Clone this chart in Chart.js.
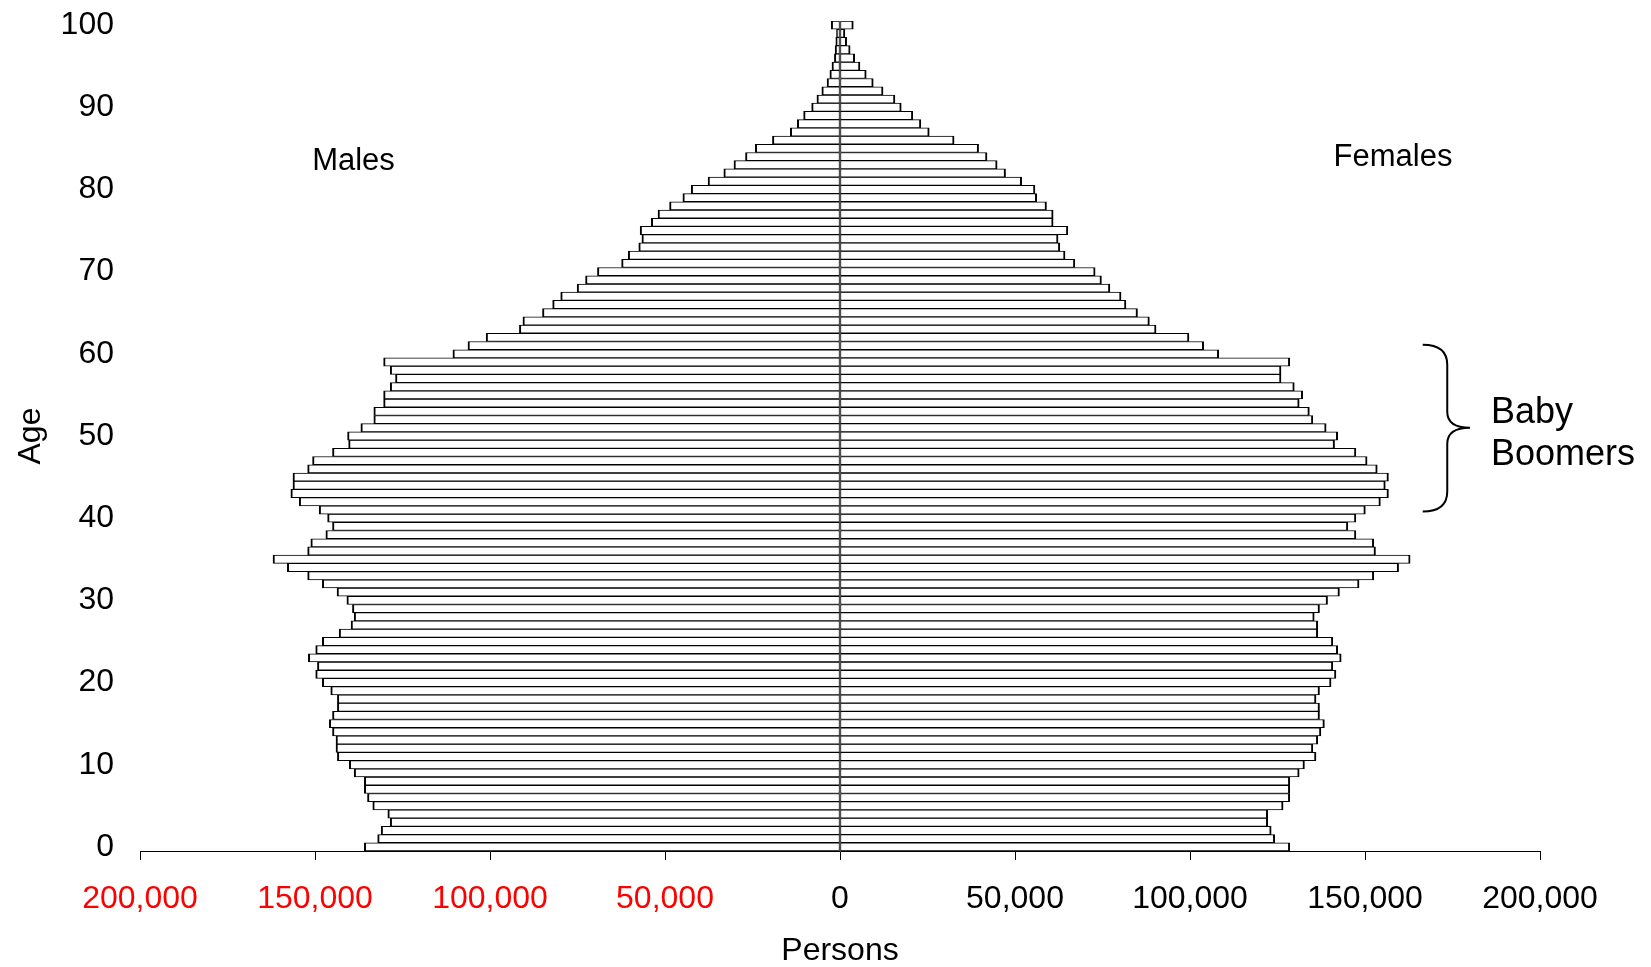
<!DOCTYPE html>
<html>
<head>
<meta charset="utf-8">
<title>Population pyramid</title>
<script src="https://cdn.jsdelivr.net/npm/chart.js@4.4.1/dist/chart.umd.min.js"></script>
<style>
  html, body { margin: 0; padding: 0; background: #fff; }
</style>
</head>
<body>
<canvas id="pyramid" width="1651" height="967"></canvas>
<script>
"use strict";

// single years of age, bottom to top
const ages = [
    '0', '1', '2', '3', '4', '5', '6', '7', '8', '9',
    '10', '11', '12', '13', '14', '15', '16', '17', '18', '19',
    '20', '21', '22', '23', '24', '25', '26', '27', '28', '29',
    '30', '31', '32', '33', '34', '35', '36', '37', '38', '39',
    '40', '41', '42', '43', '44', '45', '46', '47', '48', '49',
    '50', '51', '52', '53', '54', '55', '56', '57', '58', '59',
    '60', '61', '62', '63', '64', '65', '66', '67', '68', '69',
    '70', '71', '72', '73', '74', '75', '76', '77', '78', '79',
    '80', '81', '82', '83', '84', '85', '86', '87', '88', '89',
    '90', '91', '92', '93', '94', '95', '96', '97', '98', '99',
    '100'
];

// persons by age
const males = [
    135900, 132100, 131100, 128500, 129200, 133500, 135000, 135900, 135900, 138800,
    140200, 143600, 144000, 144000, 145000, 145900, 145000, 143600, 143600, 145500,
    147900, 149800, 149300, 151900, 149800, 147900, 143100, 139700, 138800, 139300,
    140900, 143700, 147900, 152100, 157900, 162000, 152100, 151200, 146900, 145000,
    146400, 148800, 154500, 156900, 156300, 156300, 152100, 150700, 145000, 140400,
    140700, 136900, 133200, 133200, 130400, 130400, 128500, 127000, 128500, 130400,
    110600, 106300, 101100, 91600, 90600, 85000, 82100, 79800, 75100, 72700,
    69300, 62400, 60500, 57500, 56600, 57100, 53900, 52000, 48700, 44900,
    42500, 37700, 33200, 30300, 27000, 24200, 19300, 14200, 12200, 10400,
    8100, 6600, 5200, 3700, 2900, 2300, 1600, 1400, 1200, 1000,
    2500
];

const females = [
    128500, 124200, 123200, 122200, 122200, 126600, 128500, 128500, 128500, 131200,
    132700, 136000, 135100, 136500, 137400, 138400, 137000, 137000, 136000, 137000,
    140300, 141700, 140800, 143200, 142200, 140800, 136500, 136500, 135500, 137000,
    139300, 142700, 148300, 152500, 159600, 162900, 153000, 152500, 147400, 145100,
    147400, 150100, 154400, 156700, 155800, 156700, 153500, 150600, 147400, 141300,
    142200, 138900, 135100, 134100, 131200, 132200, 129800, 126000, 126000, 128500,
    108200, 103900, 99700, 90300, 88400, 85000, 81700, 80300, 77100, 74700,
    72900, 67100, 64300, 62800, 62300, 65100, 60900, 60900, 59000, 56200,
    55700, 51900, 47300, 44900, 42000, 39600, 32600, 25500, 23100, 20800,
    17500, 15700, 12300, 9500, 7500, 5700, 4200, 2900, 1900, 1400,
    3800
];

const FONT = "'Liberation Sans', Arial, Helvetica, sans-serif";

// side labels, brace and "Baby Boomers" note
const notesPlugin = {
    id: 'notes',
    afterDraw(chart) {
        const { ctx, scales: { x, y } } = chart;
        ctx.save();
        ctx.fillStyle = '#000';
        ctx.textBaseline = 'alphabetic';

        ctx.font = `31px ${FONT}`;
        ctx.textAlign = 'center';
        ctx.fillText('Males', x.getPixelForValue(-139000), 170);
        ctx.fillText('Females', x.getPixelForValue(158000), 166);

        // curly brace beside the boomer years
        const xEnd = x.getPixelForValue(166500);
        const xMid = x.getPixelForValue(173500);
        const xTip = x.getPixelForValue(180000);
        const yTop = y.getPixelForValue(61.1);
        const yTip = y.getPixelForValue(51);
        const yBot = y.getPixelForValue(40.8);
        ctx.beginPath();
        ctx.moveTo(xEnd, yTop);
        ctx.quadraticCurveTo(xMid, yTop, xMid, yTop + 20);
        ctx.lineTo(xMid, yTip - 16);
        ctx.quadraticCurveTo(xMid, yTip, xTip, yTip);
        ctx.quadraticCurveTo(xMid, yTip, xMid, yTip + 16);
        ctx.lineTo(xMid, yBot - 20);
        ctx.quadraticCurveTo(xMid, yBot, xEnd, yBot);
        ctx.lineWidth = 2;
        ctx.strokeStyle = '#000';
        ctx.stroke();

        ctx.font = `36px ${FONT}`;
        ctx.textAlign = 'left';
        const xText = x.getPixelForValue(186000);
        ctx.fillText('Baby', xText, 423);
        ctx.fillText('Boomers', xText, 465);
        ctx.restore();
    }
};

const ctx = document.getElementById('pyramid').getContext('2d');

new Chart(ctx, {
    type: 'bar',
    data: {
        labels: ages,
        datasets: [{
            label: 'Males',
            data: males.map(v => -v),
            backgroundColor: '#ffffff',
            borderColor: '#000000',
            borderWidth: { top: 1, bottom: 1, left: 2, right: 1 },
            borderSkipped: false,
            barPercentage: 1,
            categoryPercentage: 1
        }, {
            label: 'Females',
            data: females,
            backgroundColor: '#ffffff',
            borderColor: '#000000',
            borderWidth: { top: 1, bottom: 1, left: 1, right: 2 },
            borderSkipped: false,
            barPercentage: 1,
            categoryPercentage: 1
        }]
    },
    options: {
        indexAxis: 'y',
        responsive: false,
        animation: false,
        devicePixelRatio: 1,
        layout: {
            padding: { top: 21, right: 111, bottom: 0, left: 0 }
        },
        plugins: {
            legend: { display: false },
            tooltip: { enabled: false }
        },
        scales: {
            x: {
                stacked: true,
                min: -200000,
                max: 200000,
                afterFit: scale => { scale.height = 116; },
                ticks: {
                    stepSize: 50000,
                    padding: 20,
                    font: { family: FONT, size: 32 },
                    color: c => (c.tick && c.tick.value < 0 ? '#ff0000' : '#000000'),
                    callback: v => Math.abs(v).toLocaleString('en-US')
                },
                grid: {
                    drawOnChartArea: false,
                    drawTicks: true,
                    tickLength: 9,
                    color: '#000000'
                },
                border: { display: true, color: '#000000', width: 1 },
                title: {
                    display: true,
                    text: 'Persons',
                    color: '#000000',
                    font: { family: FONT, size: 32, lineHeight: 1 },
                    padding: { top: 0, bottom: 0 }
                }
            },
            y: {
                stacked: true,
                reverse: true,
                afterFit: scale => {
                    scale.width = 140;
                    scale.paddingTop = 0;
                    scale.paddingBottom = 0;
                },
                ticks: {
                    autoSkip: false,
                    padding: 26,
                    color: '#000000',
                    font: { family: FONT, size: 32 },
                    callback: (v, i) => (i % 10 === 0 ? ages[i] : '')
                },
                grid: { display: false, drawTicks: false },
                border: { display: false },
                title: {
                    display: true,
                    text: 'Age',
                    color: '#000000',
                    font: { family: FONT, size: 32, lineHeight: 1 },
                    padding: { top: 15, bottom: 0 }
                }
            }
        }
    },
    plugins: [notesPlugin]
});
</script>
</body>
</html>
